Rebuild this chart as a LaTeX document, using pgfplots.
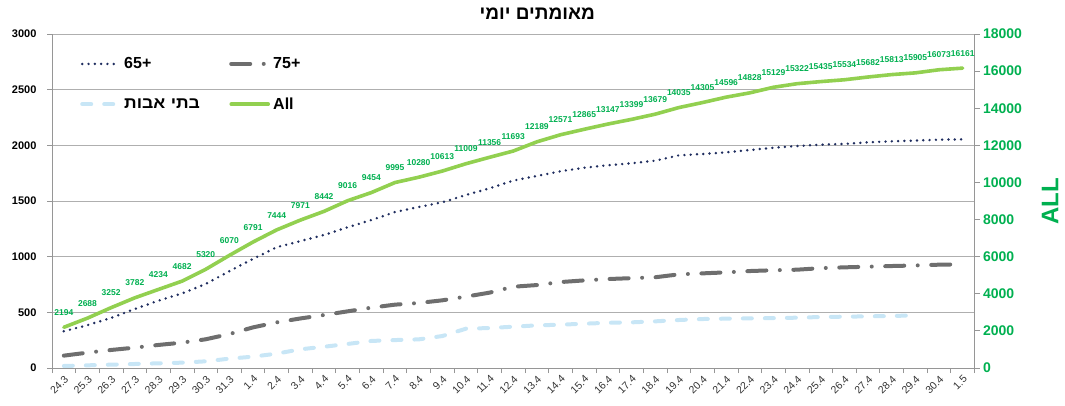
\documentclass[border=0pt]{standalone}
\usepackage{fontspec}
\setmainfont{Liberation Sans}
\newfontfamily\heb[Script=Hebrew]{Liberation Sans}
\newfontfamily\hebwide[Script=Hebrew, FakeStretch=1.1]{Liberation Sans}
\TeXXeTstate=1
\usepackage{pgfplots}
\usepackage{pgfplotstable}
\pgfplotsset{compat=1.18}
\definecolor{navy}{RGB}{31,45,95}
\definecolor{gr75}{RGB}{110,110,110}
\definecolor{lblue}{RGB}{200,230,246}
\definecolor{allgreen}{RGB}{146,208,80}
\definecolor{labgreen}{RGB}{0,176,80}
\definecolor{gridgray}{RGB}{175,175,175}
\definecolor{axgray}{RGB}{150,150,150}
\pgfplotsset{
  /pgf/number format/assume math mode=true,
  /pgf/number format/1000 sep={},
  s65/.style={navy, line width=2.7pt, line cap=round, dash pattern=on 0pt off 6.3pt},
  s75/.style={gr75, line width=4pt, line cap=round, dash pattern=on 19pt off 13.5pt on 0pt off 13.5pt},
  snh/.style={lblue, line width=4pt, line cap=round, dash pattern=on 9pt off 13pt},
  sall/.style={allgreen, line width=3.6pt, line join=round, line cap=round},
}
\pgfplotstableread{
i  s65   s75  nh   all
0  330   111  18   2194
1  385   138  24   2688
2  450   162  30   3252
3  530   183  36   3782
4  605   207  42   4234
5  670   228  48   4682
6  755   258  60   5320
7  870   305  84   6070
8  980   365  102  6791
9  1085  410  129  7444
10 1140  445  168  7971
11 1195  476  191  8442
12 1264  509  216  9016
13 1329  542  243  9454
14 1401  569  251  9995
15 1446  584  257  10280
16 1488  608  287  10613
17 1554  641  353  11009
18 1614  677  359  11356
19 1683  730  371  11693
20 1725  745  383  12189
21 1767  772  389  12571
22 1799  787  398  12865
23 1821  799  406  13147
24 1839  807  410  13399
25 1862  815  419  13679
26 1910  841  431  14035
27 1922  850  440  14305
28 1937  859  443  14596
29 1958  871  446  14828
30 1978  878  448  15129
31 1994  883  452  15322
32 2006  897  458  15435
33 2013  904  461  15534
34 2027  910  464  15682
35 2036  916  467  15813
36 2043  921  473  15905
37 2051  928  nan  16073
38 2054  931  nan  16161
}\data
\begin{document}
\begin{tikzpicture}
\useasboundingbox (0,0) rectangle (1065pt,405pt);
\begin{axis}[
  at={(52pt,37pt)}, anchor=south west,
  scale only axis, width=922.5pt, height=334pt,
  xmin=-0.5, xmax=38.5, ymin=0, ymax=3000,
  axis y line*=left, axis x line*=bottom,
  axis line style={axgray, line width=1pt, -},
  xtick={0,...,38},
  xticklabels={24.3,25.3,26.3,27.3,28.3,29.3,30.3,31.3,1.4,2.4,3.4,4.4,5.4,6.4,7.4,8.4,9.4,10.4,11.4,12.4,13.4,14.4,15.4,16.4,17.4,18.4,19.4,20.4,21.4,22.4,23.4,24.4,25.4,26.4,27.4,28.4,29.4,30.4,1.5},
  minor xtick={-0.5,0.5,...,38.5},
  ytick={0,500,...,3000},
  ymajorgrids, grid style={gridgray, line width=1pt},
  tick align=outside, major tick length=5pt, minor tick length=5pt,
  tick style={axgray, line width=0.8pt},
  major x tick style={draw=none},
  yticklabel style={font=\bfseries\fontsize{11}{13}\selectfont, black, xshift=-7pt},
  xticklabel style={rotate=45, anchor=north east, inner sep=1pt, font=\fontsize{10.5}{12}\selectfont, black!80},
  title={\heb\bfseries\beginR מאומתים יומי\endR},
  title style={at={(rel axis cs:0.526,1)}, anchor=base, yshift=9pt, font=\fontsize{19}{22}\selectfont},
  clip=false,
]
\addplot[snh] table[x=i, y=nh] {\data};
\addplot[s75] table[x=i, y=s75] {\data};
\addplot[s65] table[x=i, y=s65] {\data};
\end{axis}
\begin{axis}[
  at={(52pt,37pt)}, anchor=south west,
  scale only axis, width=922.5pt, height=334pt,
  xmin=-0.5, xmax=38.5, ymin=0, ymax=18000,
  axis x line=none, axis y line*=right,
  axis line style={axgray, line width=1pt, -},
  ytick={0,2000,...,18000}, scaled y ticks=false,
  tick align=outside, major tick length=5pt,
  tick style={axgray, line width=0.8pt},
  yticklabel style={font=\bfseries\fontsize{14}{16}\selectfont, labgreen},
  ylabel={ALL},
  every axis y label/.style={at={(rel axis cs:1,0.5)}, xshift=75.5pt, rotate=90, anchor=center},
  ylabel style={font=\bfseries\fontsize{24}{28}\selectfont, labgreen},
  legend columns=2,
  legend cell align=left,
  legend image code/.code={\draw[#1] (0pt,0pt) -- (37pt,0pt);},
  legend style={at={(rel axis cs:0.0304,0.933)}, anchor=north west, draw=none, fill=none,
    inner sep=0pt, row sep=25.5pt,
    font=\bfseries\fontsize{16}{18}\selectfont,
    nodes={text width=95pt, align=left, inner xsep=3pt, inner ysep=1pt},
    /tikz/every even column/.append style={column sep=7pt}},
  clip=false,
]
\addlegendimage{s65}
\addlegendentry{65+}
\addlegendimage{s75}
\addlegendentry{75+}
\addlegendimage{snh}
\addlegendentry{\mbox{\hebwide\beginR בתי אבות\endR}}
\addplot[sall, point meta=y,
  nodes near coords={\pgfmathprintnumber[fixed, precision=0, 1000 sep={}]{\pgfplotspointmeta}},
  every node near coord/.append style={labgreen, anchor=south, yshift=9pt, inner sep=1pt,
    font=\bfseries\fontsize{8.5}{10}\selectfont}] table[x=i, y=all] {\data};
\addlegendentry{All}
\end{axis}
\end{tikzpicture}
\end{document}
